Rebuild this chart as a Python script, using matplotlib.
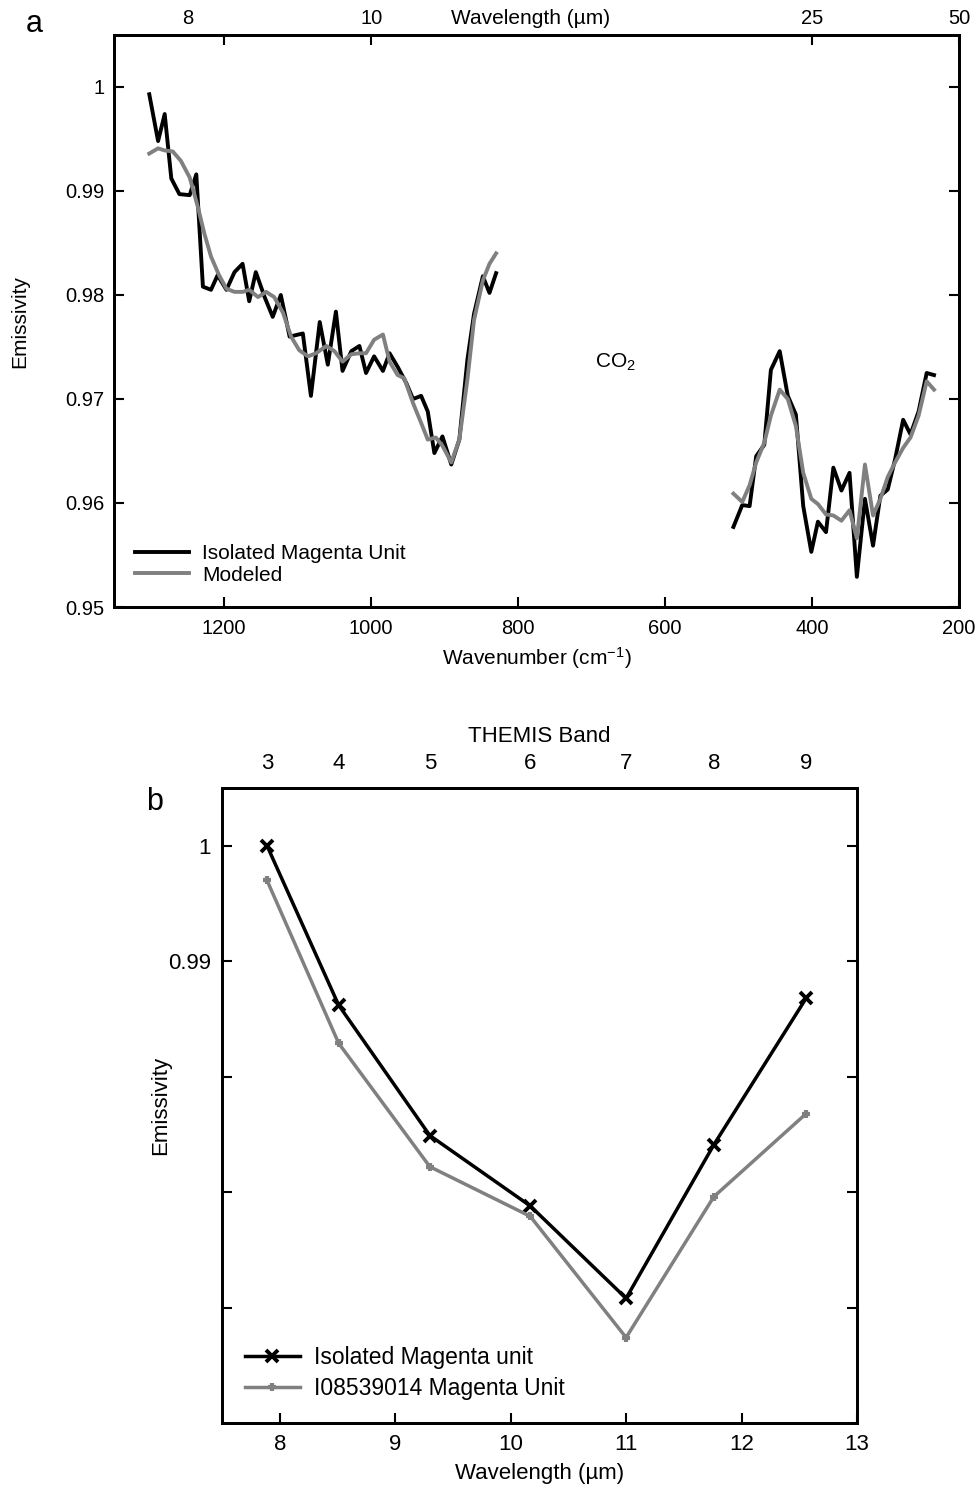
import matplotlib
matplotlib.use("Agg")
import matplotlib.pyplot as plt

plt.rcParams['font.family'] = ['Liberation Sans', 'DejaVu Sans']
plt.rcParams['mathtext.default'] = 'regular'

# === panel a data: TES spectrum (black) and model (gray) ===
wn_meas_1 = [1302, 1290, 1281, 1272, 1261, 1247, 1238, 1229, 1218, 1209, 1197, 1186, 1175, 1166, 1157,
             1145, 1134, 1123, 1111, 1093, 1082, 1070, 1059, 1048, 1039, 1027, 1016, 1007, 996, 984,
             975, 964, 952, 943, 932, 923, 914, 903, 891, 880, 869, 860, 848, 839, 830]
em_meas_1 = [0.9993, 0.9948, 0.9974, 0.9912, 0.9897, 0.9896, 0.9916, 0.9808, 0.9805, 0.9819, 0.9805,
             0.9822, 0.9830, 0.9794, 0.9822, 0.9798, 0.9779, 0.9800, 0.9760, 0.9763, 0.9703, 0.9774,
             0.9733, 0.9784, 0.9727, 0.9746, 0.9751, 0.9725, 0.9741, 0.9727, 0.9744, 0.9731, 0.9715,
             0.9700, 0.9703, 0.9688, 0.9648, 0.9664, 0.9637, 0.9661, 0.9738, 0.9782, 0.9818, 0.9802,
             0.9821]
wn_mod_1 = [1302, 1290, 1281, 1270, 1259, 1247, 1236, 1227, 1218, 1207, 1197, 1186, 1175, 1166, 1154,
            1143, 1132, 1120, 1109, 1098, 1086, 1075, 1061, 1050, 1039, 1027, 1016, 1007, 996, 984,
            975, 964, 955, 943, 932, 923, 912, 903, 891, 880, 869, 860, 848, 839, 830]
em_mod_1 = [0.9936, 0.9941, 0.9939, 0.9938, 0.9929, 0.9913, 0.9885, 0.9859, 0.9837, 0.9819, 0.9806,
            0.9803, 0.9803, 0.9805, 0.9798, 0.9803, 0.9798, 0.9783, 0.9760, 0.9747, 0.9741, 0.9744,
            0.9751, 0.9746, 0.9736, 0.9743, 0.9744, 0.9744, 0.9757, 0.9762, 0.9736, 0.9723, 0.9720,
            0.9696, 0.9677, 0.9661, 0.9663, 0.9655, 0.9639, 0.9661, 0.9719, 0.9776, 0.9814, 0.9830,
            0.9840]
wn_2 = [507, 495, 485, 476, 465, 456, 444, 433, 422, 412, 401, 392, 381, 371, 360, 349, 339, 328,
        317, 307, 297, 287, 276, 266, 255, 244, 234]
em_meas_2 = [0.9577, 0.9598, 0.9597, 0.9645, 0.9656, 0.9728, 0.9746, 0.9703, 0.9685, 0.9597, 0.9553,
             0.9582, 0.9572, 0.9634, 0.9612, 0.9629, 0.9529, 0.9604, 0.9559, 0.9607, 0.9613, 0.9642,
             0.9680, 0.9666, 0.9688, 0.9725, 0.9723]
em_mod_2 = [0.9609, 0.9601, 0.9617, 0.9639, 0.9658, 0.9684, 0.9709, 0.9700, 0.9674, 0.9629, 0.9604,
            0.9599, 0.9589, 0.9588, 0.9583, 0.9593, 0.9566, 0.9637, 0.9588, 0.9604, 0.9625, 0.9639,
            0.9653, 0.9663, 0.9684, 0.9717, 0.9709]

# === panel b data: THEMIS band emissivity ===
themis_bands = ['3', '4', '5', '6', '7', '8', '9']
themis_wl = [7.89, 8.51, 9.30, 10.17, 11.00, 11.76, 12.56]
em_isolated = [1.0000, 0.9862, 0.9749, 0.9688, 0.9608, 0.9741, 0.9868]
em_i08539014 = [0.9970, 0.9829, 0.9722, 0.9679, 0.9574, 0.9696, 0.9768]

GRAY = '#808080'
W, H = 976, 1488
fig = plt.figure(figsize=(W / 100, H / 100), dpi=100)


def frac(left, top, right, bottom):
    return [left / W, 1 - bottom / H, (right - left) / W, (bottom - top) / H]


def style_spines(ax):
    for s in ax.spines.values():
        s.set_linewidth(2.0)


# ---------------- panel a ----------------
ax = fig.add_axes(frac(114, 35, 959, 607))
ax.plot(wn_meas_1, em_meas_1, color='black', lw=2.8, label='Isolated Magenta Unit')
ax.plot(wn_mod_1, em_mod_1, color=GRAY, lw=2.8, label='Modeled')
ax.plot(wn_2, em_meas_2, color='black', lw=2.8)
ax.plot(wn_2, em_mod_2, color=GRAY, lw=2.8)
ax.set_xlim(1350, 200)
ax.set_ylim(0.95, 1.005)
ax.set_xticks([1200, 1000, 800, 600, 400, 200])
ax.set_yticks([0.95, 0.96, 0.97, 0.98, 0.99, 1.0])
ax.set_yticklabels(['0.95', '0.96', '0.97', '0.98', '0.99', '1'])
ax.tick_params(direction='in', length=7, width=1.5, labelsize=14.5, pad=9, right=True)
ax.tick_params(axis='y', pad=7)
ax.set_xlabel('Wavenumber (cm$^{-1}$)', fontsize=15, labelpad=5)
ax.set_ylabel('Emissivity', fontsize=15, labelpad=26)
style_spines(ax)
ax.text(668, 0.9735, 'CO$_2$', fontsize=15, ha='center', va='center')
ax.legend(loc='upper left', bbox_to_anchor=(0.025, 0.11), frameon=False, fontsize=15,
          handlelength=2.6, handletextpad=0.6, labelspacing=0.12, borderpad=0, borderaxespad=0)

top = ax.twiny()
top.set_xlim(ax.get_xlim())
top.set_xticks([1200, 1000, 400, 200])
top.set_xticklabels(['', '10', '25', '50'])
top.set_xticks([1250], minor=True)
top.set_xticklabels(['8'], minor=True)
top.tick_params(which='major', direction='in', length=7, width=1.5, labelsize=14.5, pad=5)
top.tick_params(which='minor', length=0, labelsize=14.5, pad=5)
style_spines(top)
fig.text(531 / W, 1 - 18 / H, 'Wavelength (\u00b5m)', ha='center', va='center', fontsize=15)
fig.text(34 / W, 1 - 24 / H, 'a', fontsize=22, ha='center', va='center')

# ---------------- panel b ----------------
bx = fig.add_axes(frac(222, 788, 857, 1423))
bx.plot(themis_wl, em_isolated, color='black', lw=2.5, marker='x', ms=8, mew=2.8,
        label='Isolated Magenta unit')
bx.plot(themis_wl, em_i08539014, color=GRAY, lw=2.5, marker='+', ms=6, mew=3,
        label='I08539014 Magenta Unit')
bx.set_xlim(7.5, 13)
bx.set_ylim(0.95, 1.005)
bx.set_xticks([8, 9, 10, 11, 12, 13])
bx.set_yticks([0.96, 0.97, 0.98, 0.99, 1.0])
bx.set_yticklabels(['', '', '', '0.99', '1'])
bx.tick_params(direction='in', length=7, width=1.5, labelsize=16, pad=8, right=True, top=True)
bx.set_xlabel('Wavelength (\u00b5m)', fontsize=16, labelpad=6)
bx.set_ylabel('Emissivity', fontsize=16, labelpad=-2)
style_spines(bx)
bx.legend(loc='upper left', bbox_to_anchor=(0.036, 0.122), frameon=False, fontsize=16.5,
          handlelength=2.4, handletextpad=0.6, labelspacing=0.35, borderpad=0, borderaxespad=0)

btop = bx.twiny()
btop.set_xlim(bx.get_xlim())
btop.set_xticks(themis_wl)
btop.set_xticklabels(themis_bands)
btop.tick_params(length=0, labelsize=16, pad=10)
btop.set_xlabel('THEMIS Band', fontsize=16, labelpad=8)
style_spines(btop)
fig.text(155 / W, 1 - 802 / H, 'b', fontsize=22, ha='center', va='center')

fig.savefig('out.png', dpi=100)
